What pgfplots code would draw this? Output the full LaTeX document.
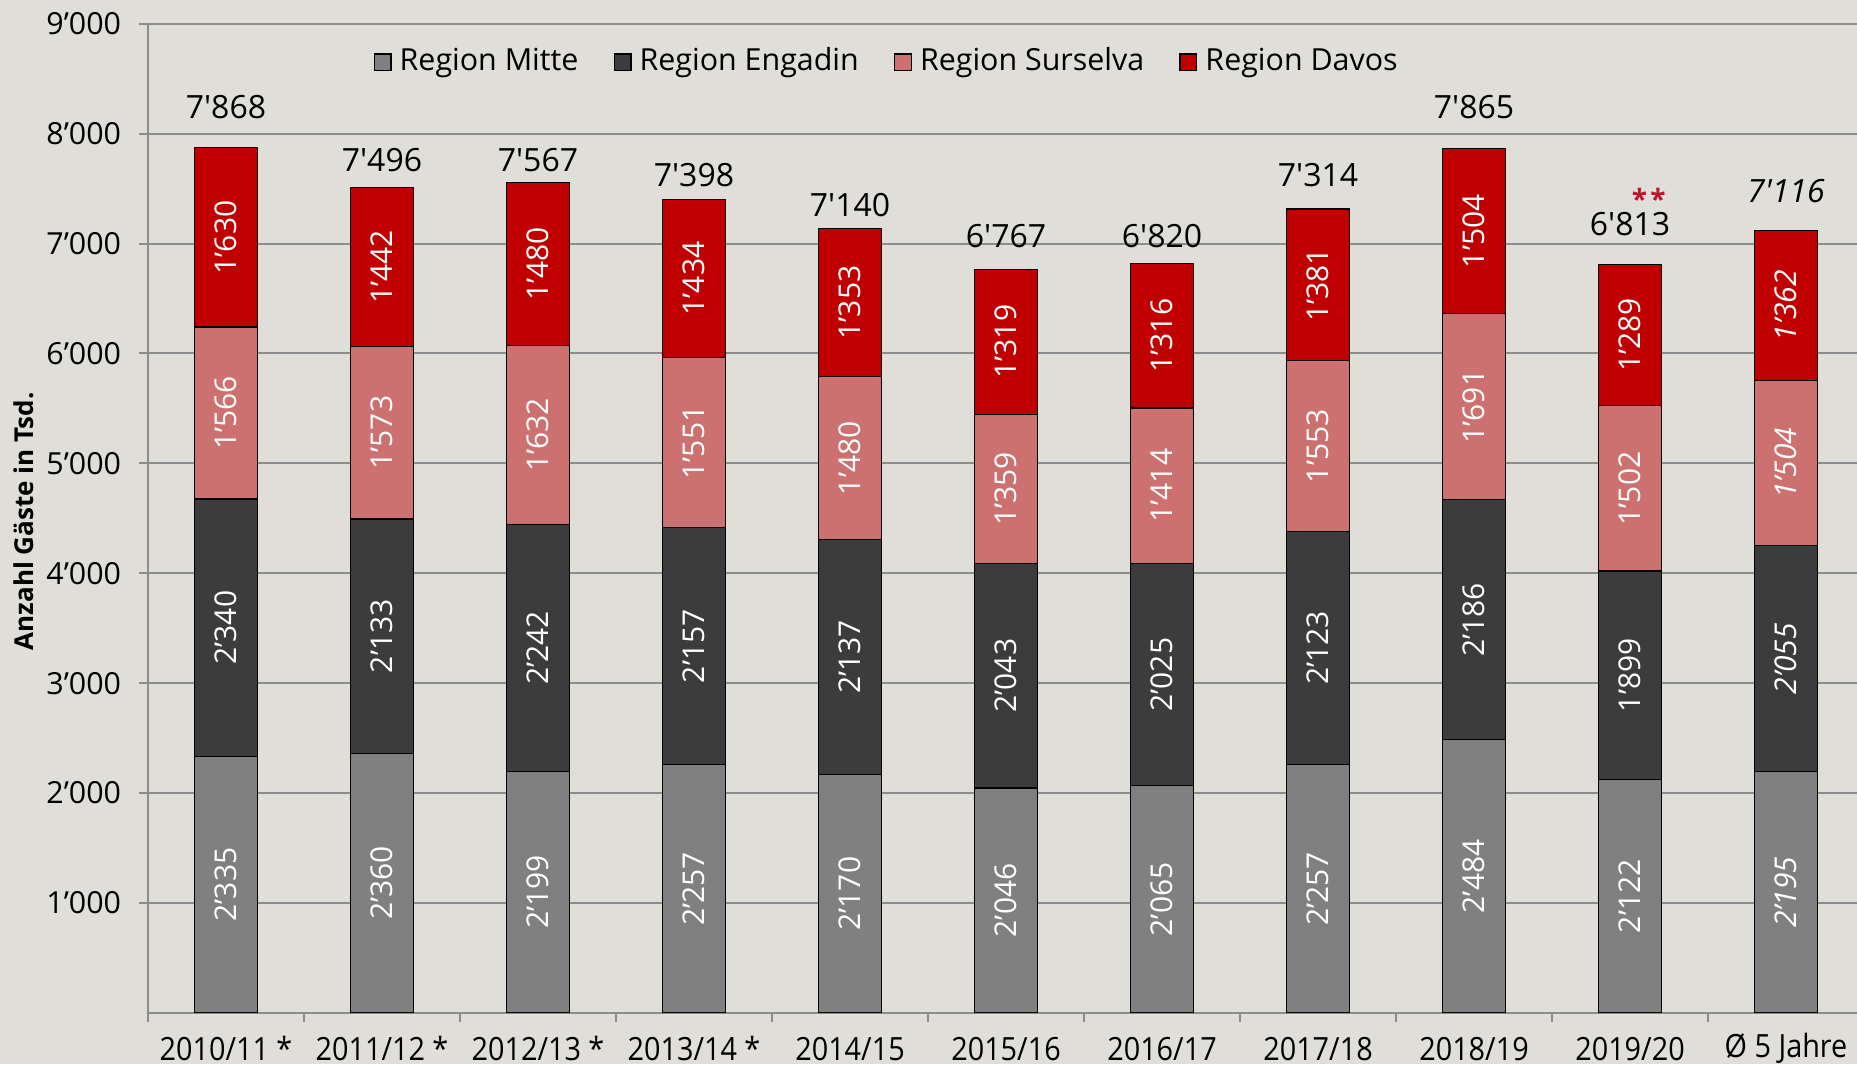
\documentclass[border=0pt]{standalone}
\usepackage{pgfplots}
\pgfplotsset{compat=1.18}
\usepackage{pgfplotstable}
\usepackage{fontspec}
\setmainfont{Open Sans}
\newfontfamily\condfont[FakeStretch=0.9]{Open Sans}
\definecolor{bg}{HTML}{DFDED8}
\definecolor{gridc}{HTML}{8C8C8C}
\definecolor{mitte}{HTML}{808080}
\definecolor{engadin}{HTML}{3C3C3C}
\definecolor{surselva}{HTML}{CC7070}
\definecolor{davos}{HTML}{C00000}
\definecolor{stars}{HTML}{C0102A}

\pgfplotstableread{
x mitte engadin surselva davos lm le ls ld
0 2335 2340 1566 1630 2’335 2’340 1’566 1’630
1 2360 2133 1573 1442 2’360 2’133 1’573 1’442
2 2199 2242 1632 1480 2’199 2’242 1’632 1’480
3 2257 2157 1551 1434 2’257 2’157 1’551 1’434
4 2170 2137 1480 1353 2’170 2’137 1’480 1’353
5 2046 2043 1359 1319 2’046 2’043 1’359 1’319
6 2065 2025 1414 1316 2’065 2’025 1’414 1’316
7 2257 2123 1553 1381 2’257 2’123 1’553 1’381
8 2484 2186 1691 1504 2’484 2’186 1’691 1’504
9 2122 1899 1502 1289 2’122 1’899 1’502 1’289
10 2195 2055 1504 1362 \textit{2’195} \textit{2’055} \textit{1’504} \textit{1’362}
}\bars

\pgfplotstableread{
x y lab
0 8245 7\textquotesingle868
1 7760 7\textquotesingle496
2 7760 7\textquotesingle567
3 7620 7\textquotesingle398
4 7351 7\textquotesingle140
5 7070 6\textquotesingle767
6 7070 6\textquotesingle820
7 7620 7\textquotesingle314
8 8245 7\textquotesingle865
9 7178 6\textquotesingle813
10 7480 \textit{7\textquotesingle116}
}\totals

\begin{document}
\begin{tikzpicture}[font=\fontsize{7.6}{9}\selectfont]
\path[use as bounding box, fill=bg] (-37pt,-12.85pt) rectangle (427.25pt,253.2pt);
\begin{axis}[
  at={(0,0)}, anchor=south west,
  scale only axis, width=427.25pt, height=247.25pt,
  xmin=-0.5, xmax=10.455, ymin=0, ymax=9000,
  ybar stacked, bar width=0.4,
  axis x line*=bottom, axis y line*=left,
  axis line style={gridc, line width=0.5pt},
  ytick={1000,2000,...,9000},
  minor ytick={1000,2000,...,9000},
  ymajorgrids, grid style={gridc, line width=0.5pt},
  xtick={0,...,10},
  xticklabels={2010/11 *,2011/12 *,2012/13 *,2013/14 *,2014/15,2015/16,2016/17,2017/18,2018/19,2019/20,Ø 5 Jahre},
  minor xtick={-0.5,0.5,...,9.5},
  tick style={gridc, line width=0.5pt},
  tick align=outside, major tick length=0pt, minor tick length=2.2pt,
  /pgf/number format/assume math mode=true,
  /pgf/number format/1000 sep={’},
  yticklabel style={font=\fontsize{7.6}{9}\selectfont, anchor=east, xshift=-3.2pt},
  xticklabel style={font=\condfont\fontsize{8}{9}\selectfont, anchor=center, yshift=-9pt},
  ylabel={Anzahl Gäste in Tsd.},
  ylabel style={at={(axis description cs:-0.0726,0.497)}, anchor=center, font=\bfseries\fontsize{6.5}{8}\selectfont},
  legend style={at={(0.434,0.961)}, anchor=center, draw=none, fill=none, legend columns=4,
    /tikz/every even column/.append style={column sep=6.8pt}, font=\fontsize{7.6}{9}\selectfont},
  legend image code/.code={\draw[#1, draw=black, line width=0.3pt] (0pt,-2.1pt) rectangle (4.2pt,2.1pt);},
]
\addplot[fill=mitte, draw=black, line width=0.3pt] table[x=x, y=mitte] {\bars};
\addplot[fill=engadin, draw=black, line width=0.3pt] table[x=x, y=engadin] {\bars};
\addplot[fill=surselva, draw=black, line width=0.3pt] table[x=x, y=surselva] {\bars};
\addplot[fill=davos, draw=black, line width=0.3pt] table[x=x, y=davos] {\bars};
\legend{Region Mitte, Region Engadin, Region Surselva, Region Davos}
\end{axis}
\begin{axis}[
  at={(0,0)}, anchor=south west,
  scale only axis, width=427.25pt, height=247.25pt,
  xmin=-0.5, xmax=10.455, ymin=0, ymax=9000,
  hide axis, clip=false,
  point meta=explicit symbolic,
  inlab/.style={draw=none, mark=none, nodes near coords, every node near coord/.append style={anchor=center, rotate=90, white, font=\fontsize{7.5}{9}\selectfont}},
]
\addplot[inlab] table[x=x, y expr=\thisrow{mitte}/2, meta=lm] {\bars};
\addplot[inlab] table[x=x, y expr=\thisrow{mitte}+\thisrow{engadin}/2, meta=le] {\bars};
\addplot[inlab] table[x=x, y expr=\thisrow{mitte}+\thisrow{engadin}+\thisrow{surselva}/2, meta=ls] {\bars};
\addplot[inlab] table[x=x, y expr=\thisrow{mitte}+\thisrow{engadin}+\thisrow{surselva}+\thisrow{davos}/2, meta=ld] {\bars};
\addplot[draw=none, mark=none, nodes near coords, every node near coord/.append style={anchor=center, black, font=\fontsize{8}{9}\selectfont}] table[x=x, y=y, meta=lab] {\totals};
\addplot[draw=none, mark=none, nodes near coords, every node near coord/.append style={anchor=center, stars, font=\bfseries\fontsize{7}{8}\selectfont}] coordinates {(9.12,7405) [*\kern0.8pt*]};
\end{axis}
\end{tikzpicture}
\end{document}
